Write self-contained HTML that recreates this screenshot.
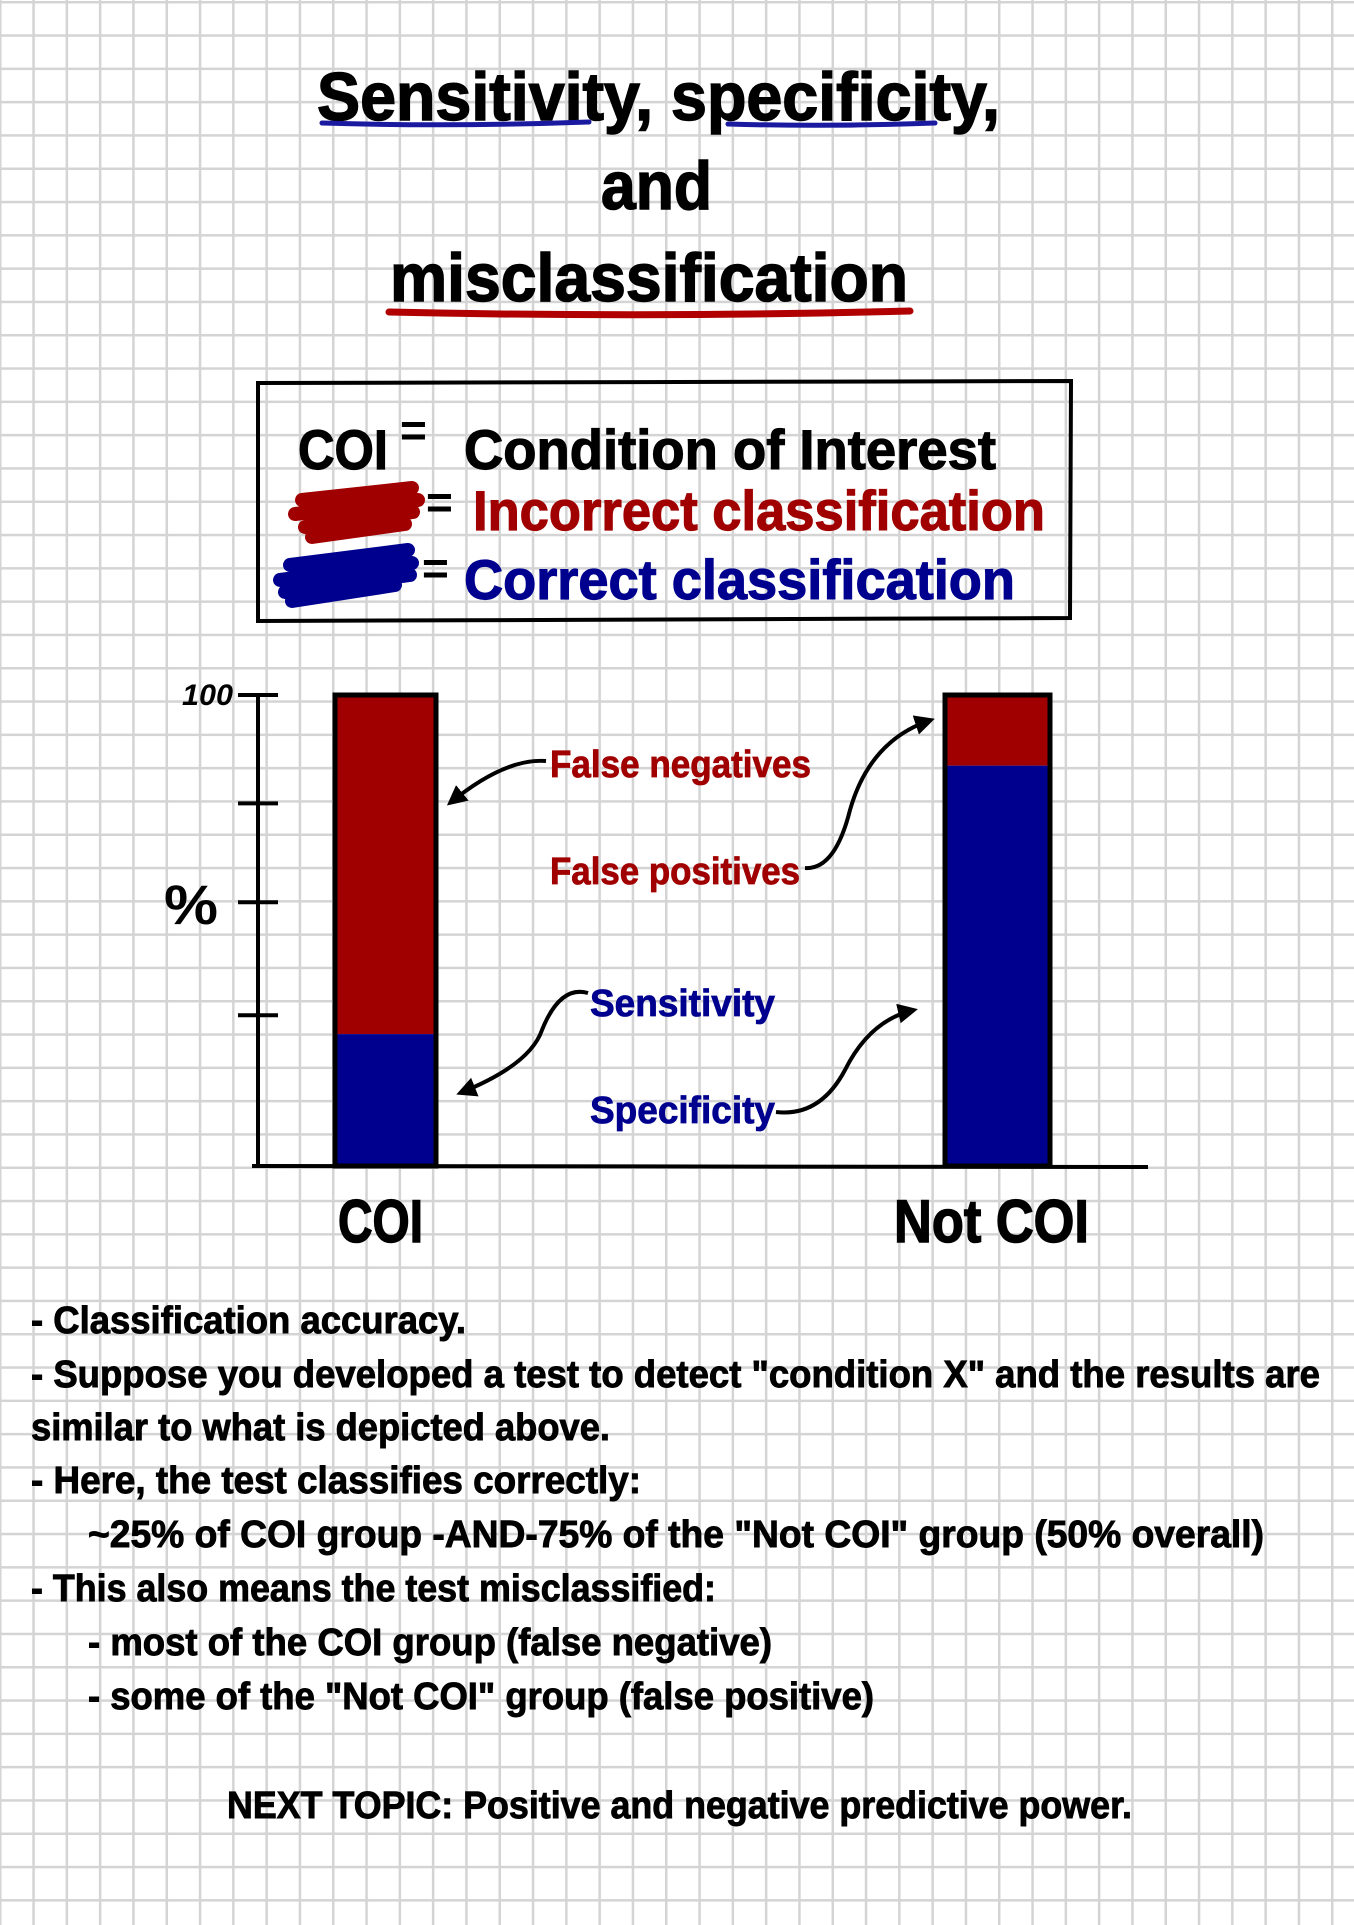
<!DOCTYPE html>
<html><head><meta charset="utf-8"><style>
html,body{margin:0;padding:0;background:#fff}
svg{display:block}
text{font-family:"Liberation Sans Narrow","Liberation Sans",sans-serif;font-weight:bold}
</style></head><body>
<svg id="page" width="1354" height="1925" viewBox="0 0 1354 1925" xmlns="http://www.w3.org/2000/svg">
<defs>
<pattern id="grid" width="33.3" height="33.3" patternUnits="userSpaceOnUse" x="-1" y="1">
<path d="M0 1.25H33.3M1.25 0V33.3" stroke="#d4d4d4" stroke-width="2.5" fill="none"/>
</pattern>
<marker id="ah" viewBox="0 0 10 10" refX="8" refY="5" markerWidth="5" markerHeight="5" orient="auto"><path d="M0 0L10 5L0 10z" fill="#000"/></marker>
</defs>
<rect width="1354" height="1925" fill="url(#grid)"/>

<g stroke="#000" stroke-width="1.5">
<text x="317" y="120" font-size="68" textLength="683" lengthAdjust="spacingAndGlyphs">Sensitivity, specificity,</text>
<text x="601" y="209" font-size="68" textLength="111" lengthAdjust="spacingAndGlyphs">and</text>
<text x="390" y="301" font-size="68" textLength="518" lengthAdjust="spacingAndGlyphs">misclassification</text>
</g>
<g>
<path d="M322 123 Q450 127 589 122" stroke="#1a1aa0" stroke-width="5" fill="none" stroke-linecap="round"/>
<path d="M728 124 Q830 127 935 123" stroke="#1a1aa0" stroke-width="5" fill="none" stroke-linecap="round"/>
<path d="M389 312 Q650 318 910 311" stroke="#b00000" stroke-width="7" fill="none" stroke-linecap="round"/>
</g>

<g>
<path d="M258 383 L1071 381 L1070 618 L258 621 Z" stroke="#000" stroke-width="4" fill="none"/>
<text x="298" y="469" font-size="56" stroke="#000" stroke-width="1.2" textLength="90" lengthAdjust="spacingAndGlyphs">COI</text>
<text x="400" y="446" font-size="46">=</text>
<text x="464" y="469" font-size="56" stroke="#000" stroke-width="1.2" textLength="532" lengthAdjust="spacingAndGlyphs">Condition of Interest</text>
<g>
<path d="M302 500 L412 488 M295 514 L418 500 M305 527 L413 512 M312 537 L405 524" stroke="#a00000" stroke-width="14" stroke-linecap="round" fill="none"/>
<text x="426" y="518" font-size="46">=</text>
<text x="473" y="530" font-size="56" fill="#a00000" stroke="#a00000" stroke-width="1.2" textLength="572" lengthAdjust="spacingAndGlyphs">Incorrect classification</text>
</g>
<g>
<path d="M290 565 L408 550 M280 580 L412 563 M285 592 L410 575 M292 601 L395 585" stroke="#00008f" stroke-width="14" stroke-linecap="round" fill="none"/>
<text x="422" y="584" font-size="46">=</text>
<text x="464" y="599" font-size="56" fill="#00008f" stroke="#00008f" stroke-width="1.2" textLength="551" lengthAdjust="spacingAndGlyphs">Correct classification</text>
</g>
</g>

<g id="chart"></g>

<g>
<text x="550" y="777" font-size="38" fill="#a00000" stroke="#a00000" stroke-width="0.8" textLength="261" lengthAdjust="spacingAndGlyphs">False negatives</text>
<path d="M546 761 Q505 758 450 803" stroke="#000" stroke-width="4" fill="none" marker-end="url(#ah)"/>
<text x="550" y="884" font-size="38" fill="#a00000" stroke="#a00000" stroke-width="0.8" textLength="250" lengthAdjust="spacingAndGlyphs">False positives</text>
<path d="M805 868 Q835 870 850 810 Q870 740 931 720" stroke="#000" stroke-width="4" fill="none" marker-end="url(#ah)"/>
<text x="590" y="1016" font-size="38" fill="#00008f" stroke="#00008f" stroke-width="0.8" textLength="185" lengthAdjust="spacingAndGlyphs">Sensitivity</text>
<path d="M588 993 Q560 985 542 1030 Q530 1065 460 1093" stroke="#000" stroke-width="4" fill="none" marker-end="url(#ah)"/>
<text x="590" y="1123" font-size="38" fill="#00008f" stroke="#00008f" stroke-width="0.8" textLength="185" lengthAdjust="spacingAndGlyphs">Specificity</text>
<path d="M776 1112 Q820 1117 845 1070 Q870 1020 914 1010" stroke="#000" stroke-width="4" fill="none" marker-end="url(#ah)"/>
</g>

<g font-size="38" stroke="#000" stroke-width="0.9">
<text x="31" y="1333" textLength="435" lengthAdjust="spacingAndGlyphs">- Classification accuracy.</text>
<text x="31" y="1387" textLength="1289" lengthAdjust="spacingAndGlyphs">- Suppose you developed a test to detect "condition X" and the results are</text>
<text x="31" y="1440" textLength="579" lengthAdjust="spacingAndGlyphs">similar to what is depicted above.</text>
<text x="31" y="1493" textLength="610" lengthAdjust="spacingAndGlyphs">- Here, the test classifies correctly:</text>
<text x="88" y="1547" textLength="1176" lengthAdjust="spacingAndGlyphs">~25% of COI group -AND-75% of the "Not COI" group (50% overall)</text>
<text x="31" y="1601" textLength="685" lengthAdjust="spacingAndGlyphs">- This also means the test misclassified:</text>
<text x="88" y="1655" textLength="684" lengthAdjust="spacingAndGlyphs">- most of the COI group (false negative)</text>
<text x="88" y="1709" textLength="786" lengthAdjust="spacingAndGlyphs">- some of the "Not COI" group (false positive)</text>
<text x="227" y="1818" textLength="905" lengthAdjust="spacingAndGlyphs">NEXT TOPIC: Positive and negative predictive power.</text>
</g>
</svg>
<script>
const categories = ["COI", "Not COI"];
const correctPct = [28, 85];
const incorrectPct = [72, 15];
const tickValues = [100, 77, 56, 32];
const tickLabels = ["100", "", "", ""];

const NS = "http://www.w3.org/2000/svg";
const chart = document.getElementById("chart");
const y0 = 1166, pxPer = 4.71;
function yScale(v){ return y0 - v * pxPer; }
const barX = [335, 945], barW = [101, 105];
const labelX = [338, 894], labelW = [85, 195];
function mk(tag, attrs){ const e = document.createElementNS(NS, tag); for (const k in attrs) e.setAttribute(k, attrs[k]); chart.appendChild(e); return e; }

categories.forEach((c, i) => {
  const yTop = yScale(correctPct[i] + incorrectPct[i]);
  const ySplit = yScale(correctPct[i]);
  const r = mk("rect", {x: barX[i], y: yTop, width: barW[i], height: ySplit - yTop, fill: "#a00000"});
  
  
  const b = mk("rect", {x: barX[i], y: ySplit, width: barW[i], height: y0 - ySplit, fill: "#00008f"});
  
  
  const o = mk("rect", {x: barX[i], y: yTop, width: barW[i], height: y0 - yTop, fill: "none", stroke: "#000", "stroke-width": 5});
  
  
  const t = mk("text", {x: labelX[i], y: 1242, "font-size": 60, stroke: "#000", "stroke-width": 1.5, textLength: labelW[i], lengthAdjust: "spacingAndGlyphs"});
  t.textContent = c;
  
  
});

const ya = mk("path", {d: "M258 " + yScale(100) + " L258 " + y0, stroke: "#000", "stroke-width": 4, fill: "none"});


const xa = mk("path", {d: "M252 " + y0 + " L1148 " + (y0 + 1), stroke: "#000", "stroke-width": 4, fill: "none"});


tickValues.forEach((v, i) => {
  const ty = yScale(v);
  const tk = mk("path", {d: "M238 " + ty + " L278 " + ty, stroke: "#000", "stroke-width": 4});
  
  
  if (tickLabels[i]) {
    const tl = mk("text", {x: 182, y: ty + 10, "font-size": 30, "font-style": "italic", textLength: 51, lengthAdjust: "spacingAndGlyphs"});
    tl.textContent = tickLabels[i];
    
    
  }
});
const yt = mk("text", {x: 164, y: 924, "font-size": 56, "font-weight": "normal", textLength: 54, lengthAdjust: "spacingAndGlyphs"});
yt.textContent = "%";


</script>
</body></html>
